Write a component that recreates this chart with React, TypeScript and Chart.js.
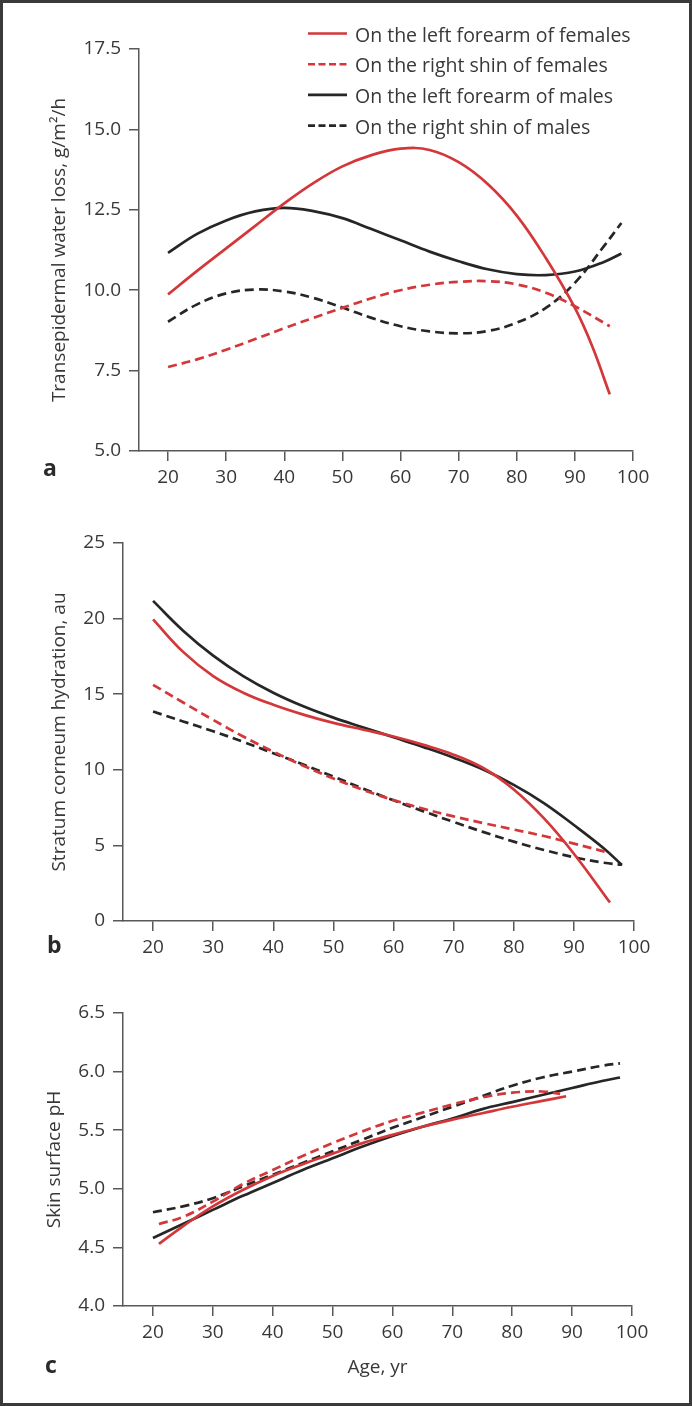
import React, { useEffect, useRef } from 'react';
import { Chart, registerables } from 'chart.js';

Chart.register(...registerables);

const FONT = "'Open Sans', 'Noto Sans', sans-serif";
const RED = '#d3373a';
const BLACK = '#262626';
const AXIS = '#585858';
const TEXT = '#383838';

// ---------- shared x axis ----------
const X_TICKS = [20, 30, 40, 50, 60, 70, 80, 90, 100];
const X_MIN = 15;
const X_MAX = 100;

// ---------- legend labels ----------
const LABEL_F_ARM = 'On the left forearm of females';
const LABEL_F_SHIN = 'On the right shin of females';
const LABEL_M_ARM = 'On the left forearm of males';
const LABEL_M_SHIN = 'On the right shin of males';

// ---------- panel a: TEWL ----------
const TEWL_TICKS = [5, 7.5, 10, 12.5, 15, 17.5];
const TEWL_F_ARM_AGE = [20, 25, 30, 35, 40, 45, 50, 55, 60, 65, 70, 75, 80, 85, 90, 93, 96];
const TEWL_F_ARM = [9.87, 10.6, 11.3, 12.0, 12.7, 13.33, 13.85, 14.2, 14.4, 14.36, 13.98, 13.3, 12.32, 11.0, 9.45, 8.25, 6.76];
const TEWL_F_SHIN_AGE = [20, 25, 30, 35, 40, 45, 50, 55, 60, 65, 70, 75, 80, 85, 90, 96];
const TEWL_F_SHIN = [7.61, 7.85, 8.15, 8.48, 8.82, 9.14, 9.45, 9.75, 10.0, 10.17, 10.26, 10.28, 10.18, 9.92, 9.5, 8.88];
const TEWL_M_ARM_AGE = [20, 25, 30, 35, 40, 45, 50, 55, 60, 65, 70, 75, 80, 85, 90, 95, 98];
const TEWL_M_ARM = [11.16, 11.75, 12.17, 12.45, 12.56, 12.46, 12.24, 11.9, 11.55, 11.2, 10.9, 10.65, 10.5, 10.47, 10.58, 10.88, 11.14];
const TEWL_M_SHIN_AGE = [20, 25, 30, 35, 40, 45, 50, 55, 60, 65, 70, 75, 80, 85, 90, 95, 98];
const TEWL_M_SHIN = [9.02, 9.56, 9.9, 10.02, 9.96, 9.76, 9.46, 9.14, 8.88, 8.72, 8.66, 8.73, 8.99, 9.45, 10.23, 11.37, 12.09];

// ---------- panel b: hydration ----------
const HYD_TICKS = [0, 5, 10, 15, 20, 25];
const HYD_F_ARM_AGE = [20, 25, 30, 35, 40, 45, 50, 55, 60, 65, 70, 75, 80, 85, 90, 96];
const HYD_F_ARM = [19.95, 17.8, 16.2, 15.1, 14.3, 13.65, 13.1, 12.65, 12.2, 11.65, 11.0, 10.1, 8.7, 6.8, 4.45, 1.22];
const HYD_F_SHIN_AGE = [20, 25, 30, 35, 40, 45, 50, 55, 60, 65, 70, 75, 80, 85, 90, 96];
const HYD_F_SHIN = [15.62, 14.45, 13.3, 12.2, 11.2, 10.27, 9.42, 8.66, 8.0, 7.42, 6.92, 6.47, 6.05, 5.62, 5.12, 4.5];
const HYD_M_ARM_AGE = [20, 25, 30, 35, 40, 45, 50, 55, 60, 65, 70, 75, 80, 85, 90, 95, 98];
const HYD_M_ARM = [21.17, 19.2, 17.55, 16.2, 15.1, 14.2, 13.45, 12.8, 12.15, 11.5, 10.8, 10.0, 9.0, 7.8, 6.35, 4.8, 3.7];
const HYD_M_SHIN_AGE = [20, 25, 30, 35, 40, 45, 50, 55, 60, 65, 70, 75, 80, 85, 90, 95, 98];
const HYD_M_SHIN = [13.85, 13.2, 12.55, 11.85, 11.1, 10.35, 9.55, 8.75, 7.98, 7.25, 6.55, 5.88, 5.25, 4.7, 4.22, 3.85, 3.72];

// ---------- panel c: pH ----------
const PH_TICKS = [4.0, 4.5, 5.0, 5.5, 6.0, 6.5];
const PH_F_ARM_AGE = [21, 25, 30, 35, 40, 45, 50, 55, 60, 65, 70, 75, 80, 85, 89];
const PH_F_ARM = [4.53, 4.68, 4.85, 4.99, 5.11, 5.21, 5.3, 5.39, 5.46, 5.53, 5.59, 5.645, 5.7, 5.75, 5.79];
const PH_F_SHIN_AGE = [21, 25, 30, 35, 40, 45, 50, 55, 60, 65, 70, 75, 80, 85, 88];
const PH_F_SHIN = [4.7, 4.76, 4.89, 5.04, 5.16, 5.28, 5.39, 5.49, 5.58, 5.65, 5.72, 5.78, 5.82, 5.83, 5.81];
const PH_M_ARM_AGE = [20, 25, 30, 35, 40, 45, 50, 55, 60, 65, 70, 75, 80, 85, 90, 95, 98];
const PH_M_ARM = [4.58, 4.7, 4.82, 4.94, 5.05, 5.16, 5.26, 5.36, 5.45, 5.53, 5.6, 5.68, 5.74, 5.8, 5.86, 5.92, 5.95];
const PH_M_SHIN_AGE = [20, 25, 30, 35, 40, 45, 50, 55, 60, 65, 70, 75, 80, 85, 90, 95, 98];
const PH_M_SHIN = [4.8, 4.85, 4.92, 5.02, 5.12, 5.22, 5.32, 5.42, 5.52, 5.61, 5.7, 5.79, 5.88, 5.95, 6.0, 6.05, 6.07];

type Series = { label: string; color: string; dashed: boolean; ages: number[]; values: number[] };

const mk = (label: string, color: string, dashed: boolean, ages: number[], values: number[]): Series => ({
  label, color, dashed, ages, values,
});

const PANELS = [
  {
    top: 0, height: 500, padTop: 49, padRight: 59, yWidth: 139, xHeight: 49,
    yTitle: 'Transepidermal water loss, g/m²/h', yTitlePad: 48, yTicks: TEWL_TICKS, decimals: 1,
    legend: true, letter: 'a', letterX: 43, letterY: 476, xTitle: '',
    series: [
      mk(LABEL_F_ARM, RED, false, TEWL_F_ARM_AGE, TEWL_F_ARM),
      mk(LABEL_F_SHIN, RED, true, TEWL_F_SHIN_AGE, TEWL_F_SHIN),
      mk(LABEL_M_ARM, BLACK, false, TEWL_M_ARM_AGE, TEWL_M_ARM),
      mk(LABEL_M_SHIN, BLACK, true, TEWL_M_SHIN_AGE, TEWL_M_SHIN),
    ],
  },
  {
    top: 500, height: 470, padTop: 43, padRight: 58, yWidth: 123, xHeight: 49,
    yTitle: 'Stratum corneum hydration, au', yTitlePad: 48, yTicks: HYD_TICKS, decimals: 0,
    legend: false, letter: 'b', letterX: 47, letterY: 453, xTitle: '',
    series: [
      mk(LABEL_F_ARM, RED, false, HYD_F_ARM_AGE, HYD_F_ARM),
      mk(LABEL_F_SHIN, RED, true, HYD_F_SHIN_AGE, HYD_F_SHIN),
      mk(LABEL_M_ARM, BLACK, false, HYD_M_ARM_AGE, HYD_M_ARM),
      mk(LABEL_M_SHIN, BLACK, true, HYD_M_SHIN_AGE, HYD_M_SHIN),
    ],
  },
  {
    top: 970, height: 436, padTop: 43, padRight: 60, yWidth: 123, xHeight: 100,
    yTitle: 'Skin surface pH', yTitlePad: 43, yTicks: PH_TICKS, decimals: 1,
    legend: false, letter: 'c', letterX: 45, letterY: 403, xTitle: 'Age, yr',
    series: [
      mk(LABEL_F_ARM, RED, false, PH_F_ARM_AGE, PH_F_ARM),
      mk(LABEL_F_SHIN, RED, true, PH_F_SHIN_AGE, PH_F_SHIN),
      mk(LABEL_M_ARM, BLACK, false, PH_M_ARM_AGE, PH_M_ARM),
      mk(LABEL_M_SHIN, BLACK, true, PH_M_SHIN_AGE, PH_M_SHIN),
    ],
  },
];

type PanelCfg = (typeof PANELS)[number];

const legendPlugin = {
  id: 'insideLegend',
  afterDraw(chart: any) {
    const opts = chart.options.plugins.insideLegend;
    if (!opts || !opts.show) return;
    const ctx = chart.ctx as CanvasRenderingContext2D;
    ctx.save();
    chart.data.datasets.forEach((ds: any, i: number) => {
      const y = 33.5 + i * 30.7;
      ctx.beginPath();
      ctx.setLineDash(ds.borderDash && ds.borderDash.length ? [7, 3.5] : []);
      ctx.strokeStyle = ds.borderColor;
      ctx.lineWidth = 2.6;
      ctx.moveTo(308, y);
      ctx.lineTo(347, y);
      ctx.stroke();
      ctx.setLineDash([]);
      ctx.fillStyle = TEXT;
      ctx.font = `19.5px ${FONT}`;
      ctx.textBaseline = 'alphabetic';
      ctx.textAlign = 'left';
      ctx.fillText(ds.label, 355, y + 8);
    });
    ctx.restore();
  },
};

const letterPlugin = {
  id: 'panelLetter',
  afterDraw(chart: any) {
    const opts = chart.options.plugins.panelLetter;
    if (!opts || !opts.text) return;
    const ctx = chart.ctx as CanvasRenderingContext2D;
    ctx.save();
    ctx.fillStyle = '#2a2a2a';
    ctx.font = `bold 23px ${FONT}`;
    ctx.textBaseline = 'alphabetic';
    ctx.textAlign = 'left';
    ctx.fillText(opts.text, opts.x, opts.y);
    ctx.restore();
  },
};

function buildConfig(p: PanelCfg): any {
  const yTicks = p.yTicks;
  return {
    type: 'line',
    data: {
      datasets: p.series.map((s) => ({
        label: s.label,
        data: s.ages.map((a, i) => ({ x: a, y: s.values[i] })),
        borderColor: s.color,
        backgroundColor: s.color,
        borderWidth: 2.7,
        borderDash: s.dashed ? [9, 5] : [],
        pointRadius: 0,
        pointHoverRadius: 0,
        tension: 0.4,
        fill: false,
      })),
    },
    plugins: [legendPlugin, letterPlugin],
    options: {
      responsive: false,
      animation: false,
      devicePixelRatio: 1,
      layout: { padding: { top: p.padTop, right: p.padRight, bottom: 0, left: 0 } },
      plugins: {
        legend: { display: false },
        tooltip: { enabled: false },
        insideLegend: { show: p.legend },
        panelLetter: { text: p.letter, x: p.letterX, y: p.letterY },
      },
      scales: {
        x: {
          type: 'linear',
          min: X_MIN,
          max: X_MAX,
          afterBuildTicks: (s: any) => {
            s.ticks = X_TICKS.map((v) => ({ value: v }));
          },
          afterFit: (s: any) => {
            s.height = p.xHeight;
          },
          grid: { display: true, drawOnChartArea: false, drawTicks: true, tickLength: 10, color: AXIS, lineWidth: 1.5 },
          border: { display: true, color: AXIS, width: 1.5 },
          ticks: {
            color: TEXT,
            font: { family: FONT, size: 19 },
            padding: 5,
            maxRotation: 0,
            autoSkip: false,
            callback: (v: number) => String(v),
          },
          title: {
            display: !!p.xTitle,
            text: p.xTitle,
            color: TEXT,
            font: { family: FONT, size: 19 },
            padding: { top: 0, bottom: 27 },
          },
        },
        y: {
          type: 'linear',
          min: yTicks[0],
          max: yTicks[yTicks.length - 1],
          afterBuildTicks: (s: any) => {
            s.ticks = yTicks.map((v) => ({ value: v }));
          },
          afterFit: (s: any) => {
            s.width = p.yWidth;
          },
          grid: { display: true, drawOnChartArea: false, drawTicks: true, tickLength: 10, color: AXIS, lineWidth: 1.5 },
          border: { display: true, color: AXIS, width: 1.5 },
          ticks: {
            color: TEXT,
            font: { family: FONT, size: 19 },
            padding: 8,
            callback: (v: number) => v.toFixed(p.decimals),
          },
          title: {
            display: true,
            text: p.yTitle,
            color: TEXT,
            font: { family: FONT, size: 19 },
            padding: { top: p.yTitlePad, bottom: 0 },
          },
        },
      },
    },
  };
}

function Panel({ p }: { p: PanelCfg }) {
  const ref = useRef<HTMLCanvasElement>(null);
  useEffect(() => {
    if (!ref.current) return;
    const chart = new Chart(ref.current, buildConfig(p));
    return () => chart.destroy();
  }, [p]);
  return (
    <canvas
      ref={ref}
      width={692}
      height={p.height}
      style={{ position: 'absolute', left: 0, top: p.top, width: 692, height: p.height, display: 'block' }}
    />
  );
}

export default function App() {
  return (
    <div style={{ position: 'absolute', left: 0, top: 0, width: 692, height: 1406, background: '#ffffff', overflow: 'hidden' }}>
      {PANELS.map((p, i) => (
        <Panel key={i} p={p} />
      ))}
      <div
        style={{
          position: 'absolute', left: 0, top: 0, width: 692, height: 1406,
          border: '3px solid #3a3a3a', boxSizing: 'border-box', pointerEvents: 'none',
        }}
      />
    </div>
  );
}
